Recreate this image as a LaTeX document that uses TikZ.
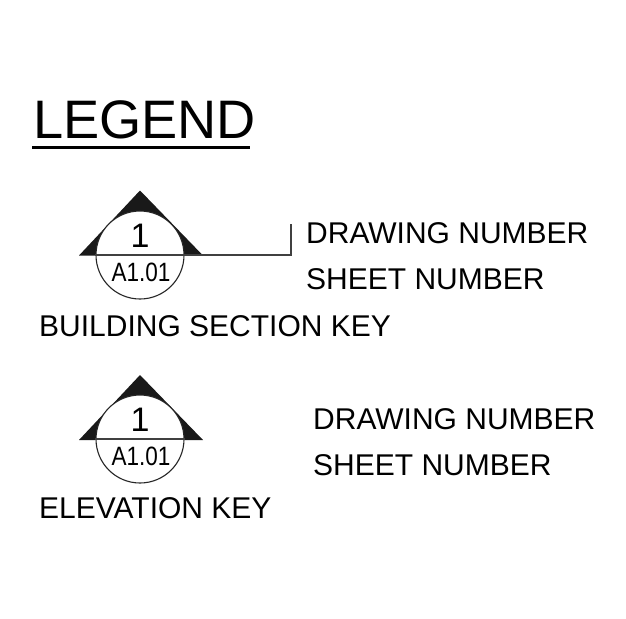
\documentclass[tikz,border=0pt]{standalone}
\usepackage{fontspec}
\setmainfont{Liberation Sans}
\tikzset{
  lbl/.style={anchor=base west,inner sep=0pt,font=\fontsize{30}{32}\selectfont,text=black},
  headlbl/.style={anchor=base west,inner sep=0pt,font=\fontsize{54.2}{56}\selectfont,text=black},
  keydisc/.style={circle,draw=black!85,line width=1.1pt,fill=white,minimum size=88pt,inner sep=0pt},
  arrowtri/.style={fill=black!90!white,draw=none},
  num/.style={anchor=base,inner sep=0pt,font=\fontsize{34}{36}\selectfont,text=black},
  sheet/.style={anchor=base,inner sep=0pt,font=\fontsize{26.5}{28}\selectfont,text=black,xscale=0.85},
  divider/.style={draw=black!75,line width=1.1pt}
}
\begin{document}
\begin{tikzpicture}[x=1pt,y=-1pt]
\useasboundingbox[fill=white] (0,0) rectangle (626,618);
% heading
\node[headlbl] (legend) at (33,138.5) {LEGEND};
\coordinate (ulL) at (32,147.3);
\coordinate (ulR) at (250,147.3);
\draw[line width=2.6pt,black] (ulL) -- (ulR);
% section key
\coordinate (secApex) at (140,190.5);
\coordinate (secBL) at (79,255.5);
\coordinate (secBR) at (203,255.5);
\fill[arrowtri] (secApex) -- (secBL) -- (secBR) -- cycle;
\node[keydisc] (sec) at (140,255) {};
\coordinate (secCorner) at (291,255);
\coordinate (secTop) at (291,224);
\draw[divider] (sec.west) -- (secCorner) -- (secTop);
\node[num] (secN) at (140,247) {1};
\node[sheet] (secS) at (141,281) {A1.01};
\node[lbl] (d1) at (306,243) {DRAWING NUMBER};
\node[lbl] (s1) at (306,289) {SHEET NUMBER};
\node[lbl] (k1) at (39,336) {BUILDING SECTION KEY};
% elevation key
\coordinate (elApex) at (140,375);
\coordinate (elBL) at (79,440);
\coordinate (elBR) at (203,440);
\fill[arrowtri] (elApex) -- (elBL) -- (elBR) -- cycle;
\node[keydisc] (el) at (140,439) {};
\draw[divider] (el.west) -- (el.east);
\node[num] (elN) at (140,431) {1};
\node[sheet] (elS) at (141,465) {A1.01};
\node[lbl] (d2) at (313,429) {DRAWING NUMBER};
\node[lbl] (s2) at (313,475) {SHEET NUMBER};
\node[lbl] (k2) at (39,518) {ELEVATION KEY};
\end{tikzpicture}
\end{document}
